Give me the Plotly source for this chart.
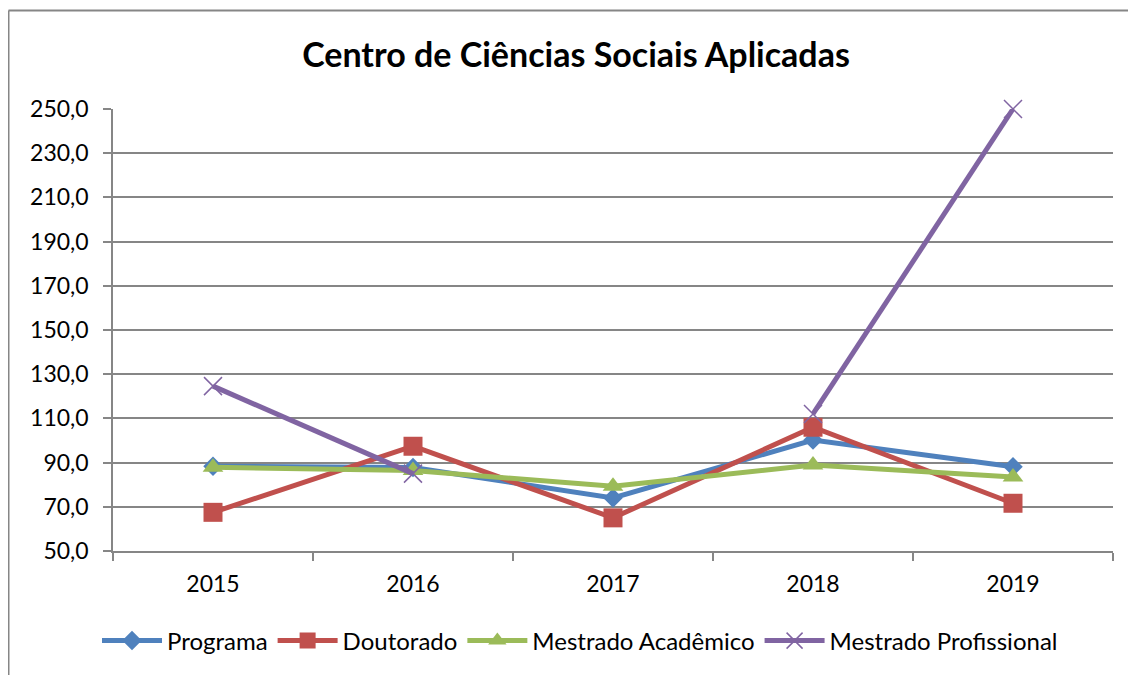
import plotly.graph_objects as go

anos = ["2015", "2016", "2017", "2018", "2019"]
programa = [88.3, 87.8, 74.0, 100.2, 88.1]
doutorado = [67.5, 97.4, 65.0, 106.0, 71.6]
mestrado_academico = [87.9, 86.4, 79.3, 88.9, 83.5]
mestrado_profissional = [124.6, 85.0, None, 112.0, 250.0]
y_ticks = [50, 70, 90, 110, 130, 150, 170, 190, 210, 230, 250]

grid = "rgb(134, 134, 134)"
fonte = "Lato"

fig = go.Figure()

fig.add_trace(go.Scatter(
    x = anos, y = programa, name = "Programa",
    mode = "lines+markers", cliponaxis = False,
    line = dict(color = "#4F81BD", width = 5),
    marker = dict(symbol = "diamond", size = 15, color = "#4F81BD")))

fig.add_trace(go.Scatter(
    x = anos, y = doutorado, name = "Doutorado",
    mode = "lines+markers", cliponaxis = False,
    line = dict(color = "#C0504D", width = 5),
    marker = dict(symbol = "square", size = 19, color = "#C0504D")))

fig.add_trace(go.Scatter(
    x = anos, y = mestrado_academico, name = "Mestrado Acadêmico",
    mode = "lines+markers", cliponaxis = False,
    line = dict(color = "#9BBB59", width = 5),
    marker = dict(symbol = "triangle-up", size = 18, color = "#9BBB59")))

fig.add_trace(go.Scatter(
    x = anos, y = mestrado_profissional, name = "Mestrado Profissional",
    mode = "lines+markers", cliponaxis = False,
    connectgaps = False,
    line = dict(color = "#8064A2", width = 5),
    marker = dict(symbol = "x-thin", size = 18, color = "#8064A2",
                  line = dict(color = "#8064A2", width = 1.5))))

# moldura externa do gráfico (só esquerda e topo aparecem)
topo = (543 - 2.5) / 442
esq = -0.1045
fig.add_shape(type = "line", xref = "paper", yref = "paper",
              x0 = esq, x1 = esq, y0 = -0.5, y1 = topo,
              line = dict(color = grid, width = 2), layer = "below")
fig.add_shape(type = "line", xref = "paper", yref = "paper",
              x0 = esq, x1 = 1.3, y0 = topo, y1 = topo,
              line = dict(color = grid, width = 2), layer = "below")

fig.update_layout(
    width = 1136, height = 675,
    title = dict(text = "<b>Centro de Ciências Sociais Aplicadas</b>",
                 x = (576 - 8 - 105) / 1000, xanchor = "center", xref = "paper",
                 y = 1 - 47 / 675, yanchor = "middle",
                 font = dict(family = fonte, size = 34, color = "black")),
    font = dict(family = fonte, size = 23, color = "black"),
    separators = ",.",
    plot_bgcolor = "white",
    paper_bgcolor = "white",
    margin = dict(l = 105, r = 31, t = 101, b = 132, pad = 0),
    legend = dict(orientation = "h", x = (580 - 8 - 105) / 1000, xanchor = "center",
                  y = -(633 - 543) / 442, yanchor = "middle",
                  font = dict(family = fonte, size = 24, color = "black"),
                  itemwidth = 60),
    showlegend = True)

fig.update_xaxes(
    type = "category", range = [-0.5, 4.5],
    showgrid = False, showline = True, linecolor = grid, linewidth = 1.5,
    ticks = "outside", tickson = "boundaries", ticklen = 8,
    tickcolor = grid, tickwidth = 1.5, ticklabelstandoff = 12)

fig.update_yaxes(
    range = [50, 250], tickvals = y_ticks, tickformat = ".1f",
    showgrid = True, gridcolor = grid, gridwidth = 1.5,
    showline = True, linecolor = grid, linewidth = 1.5,
    ticks = "outside", ticklen = 8, tickcolor = grid, tickwidth = 1.5,
    zeroline = False, ticklabelstandoff = 10)

fig.write_html("out.html")
